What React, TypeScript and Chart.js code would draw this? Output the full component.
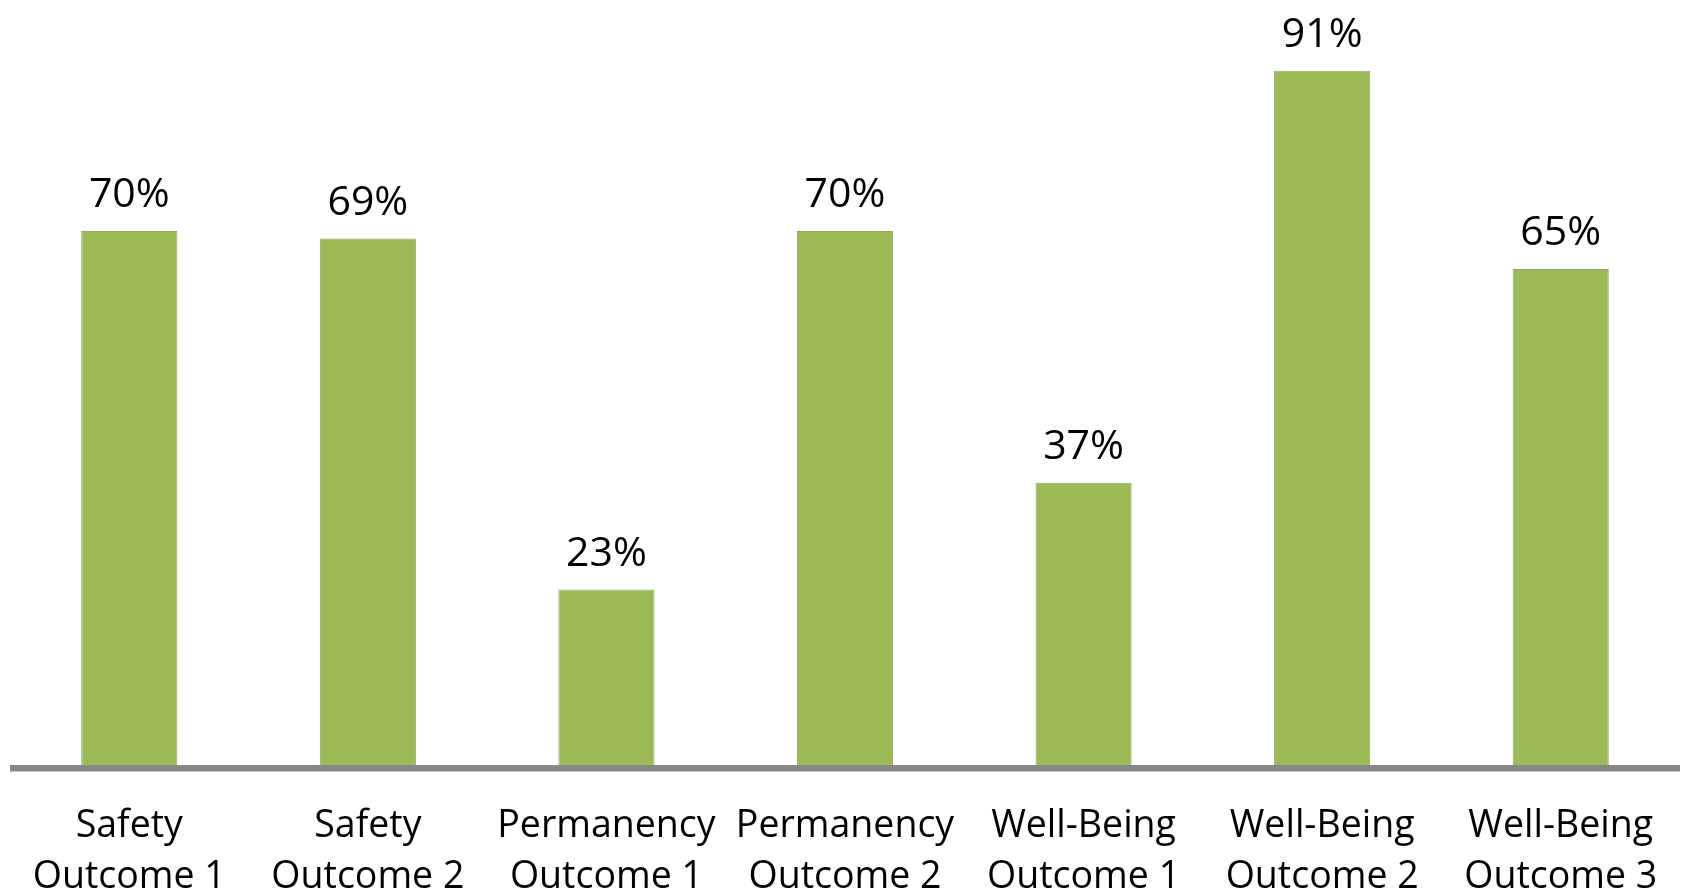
import React, { useEffect, useRef } from "react";
import { Chart, registerables } from "chart.js";

Chart.register(...registerables);

const categories: string[][] = [
  ["Safety", "Outcome 1"],
  ["Safety", "Outcome 2"],
  ["Permanency", "Outcome 1"],
  ["Permanency", "Outcome 2"],
  ["Well-Being", "Outcome 1"],
  ["Well-Being", "Outcome 2"],
  ["Well-Being", "Outcome 3"],
];
const values: number[] = [70, 69, 23, 70, 37, 91, 65];
const valueLabels: string[] = ["70%", "69%", "23%", "70%", "37%", "91%", "65%"];

const FONT = "'Open Sans', 'Noto Sans', sans-serif";

const axisLinePlugin = {
  id: "axisLine",
  afterDatasetsDraw(chart: any) {
    const { ctx, chartArea } = chart;
    ctx.save();
    ctx.fillStyle = "#878787";
    ctx.fillRect(chartArea.left, chartArea.bottom, chartArea.right - chartArea.left, 6.5);
    ctx.restore();
  },
};

const valueLabelPlugin = {
  id: "valueLabels",
  afterDatasetsDraw(chart: any) {
    const { ctx } = chart;
    const meta = chart.getDatasetMeta(0);
    ctx.save();
    ctx.fillStyle = "#000000";
    ctx.font = `41px ${FONT}`;
    ctx.textAlign = "center";
    ctx.textBaseline = "alphabetic";
    meta.data.forEach((bar: any, i: number) => {
      ctx.fillText(valueLabels[i], bar.x, bar.y - 24);
    });
    ctx.restore();
  },
};

export default function App() {
  const canvasRef = useRef<HTMLCanvasElement | null>(null);

  useEffect(() => {
    document.body.style.margin = "0";
    document.body.style.background = "#ffffff";
    const canvas = canvasRef.current;
    if (!canvas) return;
    const chart = new Chart(canvas, {
      type: "bar",
      data: {
        labels: categories,
        datasets: [
          {
            data: values,
            backgroundColor: "#9BBB59",
            borderColor: "#93a66c",
            borderWidth: 1,
            categoryPercentage: 1,
            barPercentage: 0.403,
          },
        ],
      },
      options: {
        animation: false,
        responsive: false,
        maintainAspectRatio: false,
        layout: { padding: { top: 2, left: 10, right: 4, bottom: 0 } },
        plugins: {
          legend: { display: false },
          tooltip: { enabled: false },
        },
        scales: {
          x: {
            grid: { display: false, drawTicks: false },
            border: { display: false },
            afterFit: (scale: any) => {
              scale.height = 130;
              scale.paddingLeft = 0;
              scale.paddingRight = 0;
            },
            ticks: {
              color: "#000000",
              padding: 36,
              maxRotation: 0,
              autoSkip: false,
              font: { family: FONT, size: 37.5, lineHeight: 1.36 },
            },
          },
          y: {
            display: false,
            min: 0,
            max: 100,
          },
        },
      },
      plugins: [axisLinePlugin, valueLabelPlugin],
    });
    return () => chart.destroy();
  }, []);

  return (
    <div style={{ position: "absolute", left: 0, top: 0, width: 1684, height: 895, background: "#fff" }}>
      <canvas ref={canvasRef} width={1684} height={895} style={{ display: "block" }} />
    </div>
  );
}
